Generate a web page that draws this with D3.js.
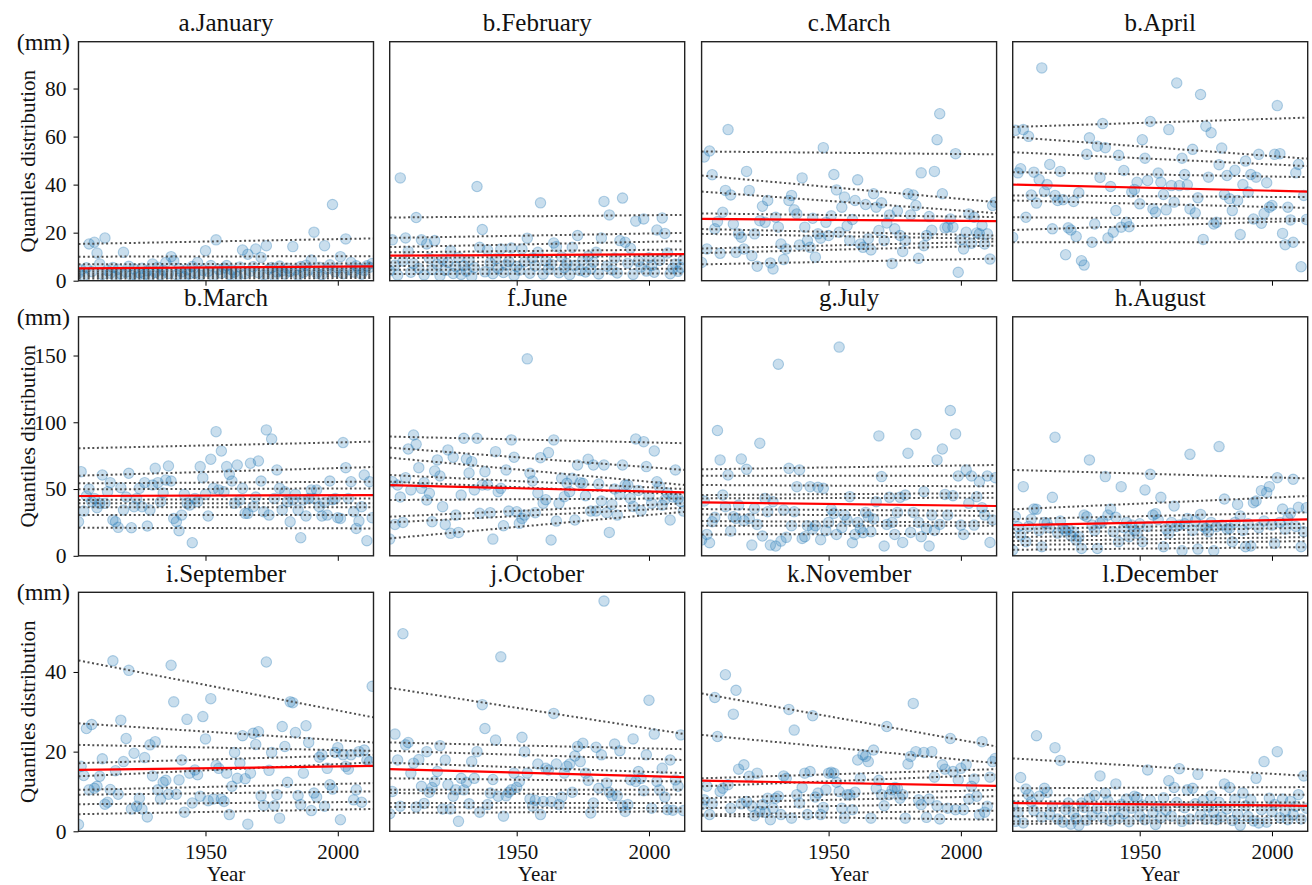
<!DOCTYPE html>
<html>
<head>
<meta charset="utf-8">
<title>Monthly quantile distribution</title>
<script src="https://d3js.org/d3.v7.min.js"></script>
<style>
  body { margin: 0; background: #fff; }
  text { font-family: "Liberation Serif", "Times New Roman", serif; }
</style>
</head>
<body>
<script>
// one value per year, 1902 .. 2013
const firstYear = 1902
const lastYear = 2013

const titles = ['a.January', 'b.February', 'c.March', 'b.April', 'b.March', 'f.June',
    'g.July', 'h.August', 'i.September', 'j.October', 'k.November', 'l.December']

const janValues = [3.2, 4.5, 2.1, 5.4, 15.3, 3.8, 16, 11.5, 7, 2.6,
    17.8, 4.2, 3.1, 5.5, 1.8, 4.8, 2.9, 11.8, 3.6, 6,
    2.2, 4.9, 1.5, 3.3, 5.2, 2.7, 4.1, 1.9, 7, 3.4,
    5.6, 2.4, 4.4, 7.6, 3, 10, 8.3, 2.5, 5.1, 3.7,
    1.6, 4.6, 2.8, 5.9, 3.2, 7.6, 2.3, 4.3, 12.5, 3.9,
    6.3, 2, 17, 4.7, 3.1, 5.3, 6.3, 2.6, 4.5, 3.5,
    1.7, 5.7, 12.8, 2.9, 11, 4, 5.8, 13.2, 3.3, 9.7,
    2.4, 14.6, 4.8, 5.5, 1.9, 3.6, 6.1, 4.2, 2.8, 5.2,
    3.9, 14.2, 4.6, 2.2, 5.9, 3.4, 6.4, 4.4, 8.6, 20.2,
    3.1, 5.6, 2.5, 14.6, 4.9, 6.6, 31.7, 3.8, 5.3, 10,
    2.9, 17.4, 4.7, 7.6, 3.6, 6.2, 5, 2.7, 4.3, 6.2,
    5.6, 7.2]
const febValues = [4.1, 17, 6.5, 2.3, 42.8, 8.2, 17.8, 12.2, 3.5, 7.1,
    26.3, 5.2, 17, 2.4, 15.3, 9.3, 4.6, 16.7, 6.8, 2.1,
    8.9, 4.3, 7.6, 12.5, 3, 5.8, 9.7, 2.6, 6.2, 4,
    8.5, 1.8, 5.5, 39.2, 13.9, 21.3, 3.7, 12.8, 7.4, 2.9,
    9.1, 5.1, 13.2, 3.4, 6.6, 8, 13.6, 2.2, 5.9, 4.4,
    13.2, 7.8, 17.7, 3.1, 9.5, 6.1, 11.8, 32.4, 2.7, 8.3,
    4.8, 6.9, 15.7, 14.2, 3.3, 9.9, 5.4, 7.2, 2.5, 13.9,
    6.4, 18.8, 4.2, 8.7, 3.6, 10.2, 5, 7.7, 11.8, 2.8,
    17.8, 33, 6, 27.4, 4.5, 9.4, 3.2, 16.7, 34.4, 16,
    7.3, 13.5, 2.6, 24.8, 8.1, 5.7, 25.7, 4, 9.6, 6.3,
    3.5, 21.1, 8.4, 26.1, 19.7, 11.5, 2.9, 5.2, 7, 3.9,
    5.5, 8.8]
const marValues = [7.6, 51.5, 13.2, 54, 44.1, 21.6, 24.6, 11.4, 28.5, 37.6,
    62.9, 35.7, 23.6, 11.8, 19.5, 18.1, 13.2, 45.5, 37.6, 10.4,
    19.5, 6, 25, 31, 24.3, 33.4, 7.4, 4.9, 26.4, 22.3,
    15.3, 8.8, 13.2, 33.4, 35.5, 29.5, 27.8, 14.9, 42.8, 22.3,
    16.7, 13.9, 26, 9.8, 19.5, 17.7, 55.4, 24.3, 18.8, 27,
    44.2, 37.8, 20.2, 30.6, 34.8, 22.9, 16.7, 25.5, 33.4, 42,
    15.3, 13.9, 31.7, 17.5, 12.8, 36.2, 30.6, 20.9, 32.4, 16.7,
    24, 27.4, 7.2, 21.6, 29, 18.8, 12.2, 16.7, 36.2, 27.4,
    35.7, 31.3, 9.3, 44.9, 14.6, 18.8, 26.7, 21, 45.5, 58.7,
    69.5, 36.2, 22, 22.3, 25.7, 22.3, 52.9, 3.5, 17, 13.2,
    20.2, 27.8, 15.6, 26.4, 19.9, 19.5, 23, 15.3, 19.5, 9,
    31.3, 32.7]
const aprValues = [18.1, 62.6, 44.9, 46.6, 62.9, 26.4, 60.1, 35.7, 45.2, 32.3,
    42.1, 88.6, 37.1, 40, 48.4, 21.6, 35.5, 33.4, 45.5, 33.7,
    10.8, 22, 21.1, 33, 18.4, 36.6, 8.3, 6.5, 52.6, 59.5,
    16, 23.6, 56, 43, 65.4, 55.4, 17.8, 39.2, 20.2, 29.2,
    52.2, 22.3, 45.9, 24.3, 22.5, 36.9, 38, 41, 32, 58.7,
    51, 41.7, 66.3, 29.9, 28.5, 44.8, 41, 35.9, 29.5, 62.9,
    39.6, 32.7, 82.3, 39.6, 51, 44.2, 39.9, 29.9, 54.7, 28.2,
    34.5, 77.5, 17.2, 64.3, 43.1, 61.6, 23.6, 24.3, 48.3, 55.2,
    35.9, 43.8, 34.1, 29.2, 46, 33.4, 19.2, 40, 49.8, 36.9,
    44.2, 25.7, 43.1, 52.6, 23.9, 28, 40.8, 30.6, 31.3, 52.6,
    72.9, 52.9, 19.7, 15, 30.6, 25.3, 16, 44.9, 48.4, 5.8,
    35.5, 25.5]
const mayValues = [25.5, 63, 33.5, 44.8, 50, 40.5, 43, 36, 39.3, 60.5,
    39.3, 48, 54.8, 26.8, 25.5, 21.3, 51, 34.3, 44, 61.8,
    21, 36.8, 43, 50.5, 36.8, 54.8, 22.3, 34.3, 53, 65.5,
    54.8, 40.5, 47, 56.8, 67.3, 56, 28, 25.5, 18.8, 30.5,
    46, 39.3, 38, 9.8, 43, 40.5, 66.8, 58.5, 46, 29.8,
    72.3, 50.5, 93, 49.3, 78.5, 48, 66.8, 61, 56, 39.3,
    68, 41.8, 50.5, 31.8, 31.8, 69.3, 36.8, 44, 71, 56,
    33, 94.3, 30.5, 87.5, 43, 64.3, 50.5, 34.3, 48, 40.5,
    25.5, 41.8, 46, 34.3, 13.5, 41.8, 29.8, 43, 49.3, 43,
    49.3, 36.8, 29.8, 40, 30.5, 56, 42, 43, 28.5, 28,
    84.8, 66, 43, 55.5, 33, 20.5, 26, 36.8, 60.5, 11.3,
    55.5, 28.5]
const junValues = [12.5, 55.5, 23.5, 53, 44, 25, 58.5, 80, 49.3, 90.5,
    83.5, 66, 50.5, 54.8, 41.8, 46.8, 25.5, 63.5, 71.8, 59.8,
    36.8, 23.5, 79.3, 16.8, 73.8, 30.5, 17.5, 45.5, 88, 72.5,
    62, 70.5, 49.3, 88, 31.8, 53, 63, 53, 32.3, 12.5,
    78, 48, 50.5, 22.5, 64.3, 33.5, 86.8, 73.8, 33, 24.3,
    28, 30.5, 147.5, 61.8, 56, 32.3, 47, 73.5, 39.3, 42,
    77.3, 11.8, 86.8, 26, 39.3, 58, 44.3, 54.3, 48, 58,
    26.8, 68, 54.8, 54.3, 45, 72.3, 33.5, 68, 33.5, 53.8,
    41, 68, 32.3, 17.5, 38.5, 50, 30.5, 46, 68, 53,
    53, 43, 37, 87.5, 49, 33.8, 85.5, 66.8, 45, 39.3,
    78.5, 55.5, 51.8, 38, 42, 47, 26.8, 44, 64.3, 43,
    40.5, 33.5]
const julValues = [11.8, 41, 16, 9.8, 25.5, 28.8, 93.8, 71.8, 45.5, 36.8,
    60.5, 18.5, 29.3, 28, 38, 72.5, 26.3, 64.8, 28, 8,
    35.5, 23.5, 84.3, 14.8, 43, 33, 8, 40.5, 7.3, 143.5,
    11, 34.3, 13.8, 65.5, 22.5, 33, 51.8, 64.3, 13, 14.3,
    22.5, 51.8, 20, 22.5, 51.3, 12, 50.5, 18.8, 25, 34.8,
    31.8, 16, 156.3, 21, 30.5, 27, 44.3, 9.8, 16, 25,
    20.5, 17.3, 32.5, 29.3, 18, 27.5, 40.5, 89.8, 59.3, 7.3,
    23.5, 43.8, 25, 16, 32.5, 43.8, 10, 45.5, 76.8, 17.5,
    32.5, 91, 25, 14.3, 48, 20.5, 7.3, 30.5, 19, 71.8,
    23.5, 80, 46, 30.5, 108.8, 45, 91.3, 59.8, 23, 16,
    64.3, 39.3, 59.8, 23, 44.3, 55.5, 36, 30.5, 59.8, 10,
    26.8, 58.5]
const augValues = [4.3, 29.3, 21.8, 15.5, 51.8, 10.5, 22, 27.3, 35, 34.8,
    19, 6.8, 25, 24.3, 21, 43.8, 88.8, 17, 26, 20.5,
    18.8, 20, 15, 18, 11.8, 14.3, 5.5, 30.5, 29.3, 71.8,
    23, 19, 5.5, 24.3, 26, 59.3, 30.5, 35, 18, 28.8,
    10.5, 51.8, 21, 25, 14.3, 23, 19, 16.8, 24, 10.5,
    49.3, 22, 61, 30.5, 31.5, 27, 43.8, 6.8, 20, 16.8,
    25, 37.3, 22, 23, 3.8, 24, 28, 76, 19, 26,
    5, 31, 22, 20.5, 18, 25, 3.8, 21.8, 81.8, 23,
    42.5, 20, 20.5, 10.5, 25, 38.5, 29.8, 19, 6.8, 24,
    7.3, 39.8, 41, 21, 48.8, 26, 47.5, 51.8, 23, 9.3,
    58.5, 25, 35, 20, 28, 31.8, 57.3, 22, 36.3, 6.8,
    18, 36]
const sepValues = [1.7, 16.3, 14, 25.8, 10.4, 26.8, 10.8, 11.3, 13.8, 18.2,
    6.8, 7.3, 10.5, 42.8, 15.2, 9.3, 27.9, 17.5, 23.3, 40.4,
    5.6, 19.6, 6.3, 8.3, 5.6, 18.5, 3.6, 21.7, 13.9, 22.5,
    10.4, 8.1, 12.3, 12.8, 9.3, 41.7, 32.5, 9.3, 12.9, 17.9,
    4.8, 28.1, 14.6, 7.1, 15.4, 14.2, 8.8, 28.8, 23.2, 7.7,
    33.3, 8.1, 16.5, 15.8, 8.1, 7.5, 14.6, 4.2, 11.3, 19.8,
    13.3, 17.1, 24, 13.2, 1.8, 14.6, 24.6, 21.8, 25, 8.9,
    6.5, 42.5, 15.3, 19.8, 6.4, 9.2, 3.3, 26.3, 21.3, 12.3,
    32.5, 32.3, 24.8, 9, 6.7, 14.6, 26.5, 22.3, 5.2, 9.6,
    8.6, 18.6, 19.2, 6.3, 15.8, 11.7, 10.6, 19.8, 21, 2.9,
    19.2, 16.3, 15.6, 19.2, 7.9, 10.4, 20, 7.3, 20.4, 17.9,
    17.5, 36.4]
const octValues = [4.4, 10, 24.4, 17.9, 6.3, 49.6, 21.7, 22.3, 14.6, 17.1,
    6.1, 18, 11.3, 7, 20, 9.8, 11, 12.5, 15, 21.5,
    5.6, 17.9, 11.7, 5.6, 8.8, 10.4, 2.5, 13.3, 10.4, 12.3,
    6.9, 17.5, 13.3, 20, 4.8, 31.8, 25.8, 6.7, 9.6, 13,
    22.9, 8.8, 43.8, 3.8, 8.9, 9.8, 10.4, 14.6, 11, 12.5,
    23.6, 20, 14.6, 8.1, 6.3, 7.8, 16.9, 4.2, 7.5, 15.8,
    15.4, 7.5, 29.6, 16.9, 6.7, 8.6, 14.6, 16.3, 16.9, 9.8,
    18.9, 21.3, 17.5, 22.1, 14.6, 12.8, 4.6, 7.1, 21.1, 10.8,
    19.2, 57.8, 12.1, 9.8, 8.9, 21.9, 8.9, 20.2, 6.4, 5,
    6.7, 12.9, 23.2, 12.5, 15, 13.3, 10.2, 19.2, 32.9, 5.8,
    24.4, 12.5, 10.4, 15.8, 8.6, 5.4, 17.9, 5.3, 12.9, 11.3,
    24.2, 5.2]
const novValues = [6.7, 7.9, 11.3, 4.2, 7, 33.6, 23.8, 10, 10.8, 39.3,
    11.7, 5.8, 29.4, 35.4, 15.6, 6.9, 16.7, 7.5, 13.8, 6.3,
    3.9, 14.6, 5, 6.7, 4.8, 8.3, 2.9, 5.8, 8.3, 8.8,
    4.2, 13.9, 13.3, 30.6, 3.3, 25.4, 9.2, 7.1, 11, 14.6,
    4.2, 15, 29, 8.6, 9.6, 4.2, 6, 10.4, 14.6, 14.8,
    14.6, 12.3, 10, 5.8, 3.3, 9.2, 9.2, 5.4, 9.8, 17.9,
    13.3, 19.2, 18.8, 17.5, 3.3, 20.4, 10.8, 12.8, 9.2, 6.4,
    26.3, 9.2, 10.4, 11, 10.8, 8.3, 9.2, 3.3, 16.9, 18.8,
    32.1, 20, 7.9, 6.7, 19.8, 3.5, 8.1, 20, 13.6, 6.4,
    3.1, 16.7, 15.6, 5.8, 23.3, 15, 5.4, 12.9, 15.8, 5.4,
    16.7, 8.1, 11.3, 13.1, 8.8, 4.2, 22.5, 4.8, 6.3, 13.6,
    17.5, 18.3]
const decValues = [6.5, 2.5, 4.8, 13.5, 2.1, 10.6, 9.2, 7.4, 5.2, 24,
    8.8, 3.6, 10.8, 9.8, 4.2, 6.3, 21, 3.1, 17.8, 2.3,
    5.5, 7.1, 1.8, 4.5, 3.2, 1.5, 7.1, 6, 2.8, 8.2,
    4, 9, 5.7, 13.9, 3.5, 9.6, 7.6, 2.6, 5.1, 11.9,
    3.3, 6.8, 4.4, 8.1, 2.4, 5.8, 8.8, 8.5, 3.9, 6.6,
    2.9, 15.4, 7.8, 4.6, 1.7, 6.2, 3.4, 8.4, 5.3, 12.7,
    3.8, 11, 7.2, 15.7, 2.5, 5.9, 10.4, 3.1, 10.8, 6.9,
    14.3, 4.1, 7.7, 3, 6.1, 8.9, 4.8, 2.9, 7.3, 3.6,
    11.9, 5.6, 11, 2.7, 8, 4.3, 1.5, 9.6, 6.4, 3.7,
    7.9, 2.6, 13.3, 2.1, 5.4, 17.5, 2.3, 8.3, 4.9, 6.7,
    20, 3.4, 8.1, 5, 2.9, 7.5, 4.2, 6.3, 9.2, 3.1,
    13.9, 5.8]

// quantile regression lines: [value at start, value at end]
const janQuantiles = [[15.3, 17.6], [10, 10.2], [6.8, 7.2], [4.6, 5.2], [3.8, 4.3], [3, 3.4], [2.3, 2.6], [1.6, 1.9], [0.9, 1.1]]
const febQuantiles = [[26.3, 27.4], [17.8, 19.9], [14, 16.5], [11.8, 13], [9.4, 10.4], [7.6, 8.5], [6.1, 7], [4.5, 5], [2.8, 3]]
const marQuantiles = [[53.8, 52.6], [43.8, 32.7], [37.1, 28.1], [28, 26.5], [21.5, 18.8], [19.5, 17.4], [13.4, 16.3], [11.5, 14.6], [6.8, 9.2]]
const aprQuantiles = [[64, 67.9], [59.8, 50.8], [53.5, 47.7], [45.2, 43.1], [35.5, 34.8], [33.4, 30.3], [26.4, 25.7], [21.1, 25], [16, 16]]
const mayQuantiles = [[80.5, 85.5], [60, 66.5], [54.3, 55.5], [49.8, 50.5], [41.8, 43], [39.3, 39.3], [36.3, 36.3], [30.5, 30.5], [21, 20.5]]
const junQuantiles = [[89.3, 84.3], [81, 64.3], [73.5, 53], [60.5, 50], [55.5, 46], [41.8, 43], [29.3, 39.3], [25, 36], [13, 33]]
const julQuantiles = [[64.8, 68], [60, 60], [53, 52], [45.5, 47], [43, 43.5], [35, 33.5], [31, 30], [26, 25], [22.5, 22.5], [16, 16.5]]
const augQuantiles = [[64.3, 58], [34.8, 44.8], [27.5, 32.5], [20, 24], [17, 21], [14, 17], [11, 14], [8, 11], [4.5, 6.5]]
const sepQuantiles = [[42.9, 28.6], [27.1, 22.3], [21.7, 20.2], [17.1, 19.2], [13.8, 17.3], [10.4, 12.1], [9.2, 10], [6.8, 7.4], [4.3, 5.6]]
const octQuantiles = [[36, 24.4], [22.3, 20.6], [20.2, 17.9], [17.2, 14.6], [13.3, 12.5], [10.4, 10.4], [9.6, 9.2], [7.1, 7.1], [6.1, 5.8], [4.6, 5]]
const novQuantiles = [[34.6, 21.3], [24.2, 17.1], [13.3, 15.6], [11.3, 14.2], [8.3, 10.4], [7.2, 8.8], [5.8, 7], [4.2, 5.2], [3.9, 2.9]]
const decQuantiles = [[18.3, 13.9], [10.8, 11.1], [9, 9.2], [7.5, 7.2], [5.8, 6.3], [5.2, 5.4], [3.8, 3.8], [2.5, 2.9], [1.9, 2.1]]

// median (red) line: [start, end]
const medians = [[5.1, 6], [10.4, 11.1], [25.7, 24.8], [40, 37.1], [44.8, 45.5], [53, 47.5],
    [40, 37.3], [23, 27.3], [15.4, 16.4], [15.6, 13.6], [12.7, 11.4], [7.1, 6.4]]

const rowMax = [99.5, 179, 60]
const rowTicks = [[0, 20, 40, 60, 80], [0, 50, 100, 150], [0, 20, 40]]
const yearTicks = [1950, 2000]

const allValues = [janValues, febValues, marValues, aprValues, mayValues, junValues,
    julValues, augValues, sepValues, octValues, novValues, decValues]
const allQuantiles = [janQuantiles, febQuantiles, marQuantiles, aprQuantiles, mayQuantiles, junQuantiles,
    julQuantiles, augQuantiles, sepQuantiles, octQuantiles, novQuantiles, decQuantiles]

const colLeft = [78.5, 389.7, 701.6, 1012.7]
const rowTop = [41.7, 316.8, 592.3]
const panelW = 295
const panelH = 239

const svg = d3.select('body').append('svg')
    .attr('width', 1312)
    .attr('height', 885)

svg.append('rect').attr('width', 1312).attr('height', 885).attr('fill', '#fff')

const x = d3.scaleLinear().domain([firstYear, 2013.5]).range([0, panelW])

titles.forEach((title, i) => {
    const r = Math.floor(i / 4)
    const c = i % 4
    const y = d3.scaleLinear().domain([0, rowMax[r]]).range([panelH, 0])
    const g = svg.append('g').attr('transform', `translate(${colLeft[c]},${rowTop[r]})`)

    g.append('clipPath').attr('id', 'clip' + i)
        .append('rect').attr('width', panelW).attr('height', panelH)

    const plot = g.append('g').attr('clip-path', `url(#clip${i})`)

    plot.selectAll('circle')
        .data(allValues[i])
        .enter()
        .append('circle')
        .attr('cx', (d, k) => x(firstYear + k))
        .attr('cy', d => y(d))
        .attr('r', 5.2)
        .attr('fill', '#1f77b4')
        .attr('fill-opacity', 0.24)
        .attr('stroke', '#1f77b4')
        .attr('stroke-opacity', 0.32)
        .attr('stroke-width', 1.1)

    plot.selectAll('line.q')
        .data(allQuantiles[i])
        .enter()
        .append('line')
        .attr('class', 'q')
        .attr('x1', x(firstYear))
        .attr('x2', x(2013.5))
        .attr('y1', d => y(d[0]))
        .attr('y2', d => y(d[1]))
        .attr('stroke', '#505050')
        .attr('stroke-width', 2)
        .attr('stroke-dasharray', '2,2.6')

    plot.append('line')
        .attr('x1', x(firstYear))
        .attr('x2', x(2013.5))
        .attr('y1', y(medians[i][0]))
        .attr('y2', y(medians[i][1]))
        .attr('stroke', 'red')
        .attr('stroke-width', 2.2)

    // x ticks
    const xAxis = g.append('g')
        .attr('transform', `translate(0,${panelH})`)
        .call(d3.axisBottom(x).tickValues(yearTicks).tickSize(5).tickPadding(8)
            .tickFormat(r === 2 ? d3.format('d') : ''))
    xAxis.select('.domain').remove()
    xAxis.selectAll('text').attr('font-size', 21).attr('font-family', '"Liberation Serif", serif').attr('fill', '#111')

    if (r === 2) {
        g.append('text')
            .attr('x', panelW / 2)
            .attr('y', panelH + 50)
            .attr('text-anchor', 'middle')
            .attr('font-size', 21)
            .attr('fill', '#111')
            .text('Year')
    }

    if (c === 0) {
        const yAxis = g.append('g')
            .call(d3.axisLeft(y).tickValues(rowTicks[r]).tickSize(5).tickPadding(7))
        yAxis.select('.domain').remove()
        yAxis.selectAll('text').attr('font-size', 21.5).attr('font-family', '"Liberation Serif", serif').attr('fill', '#111')

        svg.append('text')
            .attr('transform', `translate(35,${rowTop[r] + panelH / 2}) rotate(-90)`)
            .attr('text-anchor', 'middle')
            .attr('font-size', 21)
            .attr('fill', '#111')
            .text('Quantiles distribution')

        svg.append('text')
            .attr('x', 70)
            .attr('y', rowTop[r] + 8)
            .attr('text-anchor', 'end')
            .attr('font-size', 24)
            .attr('fill', '#111')
            .text('(mm)')
    }

    // frame
    g.append('rect')
        .attr('width', panelW)
        .attr('height', panelH)
        .attr('fill', 'none')
        .attr('stroke', '#222')
        .attr('stroke-width', 1.4)

    g.append('text')
        .attr('x', panelW / 2)
        .attr('y', -10.5)
        .attr('text-anchor', 'middle')
        .attr('font-size', 25)
        .attr('fill', '#111')
        .text(title)
})
</script>
</body>
</html>
